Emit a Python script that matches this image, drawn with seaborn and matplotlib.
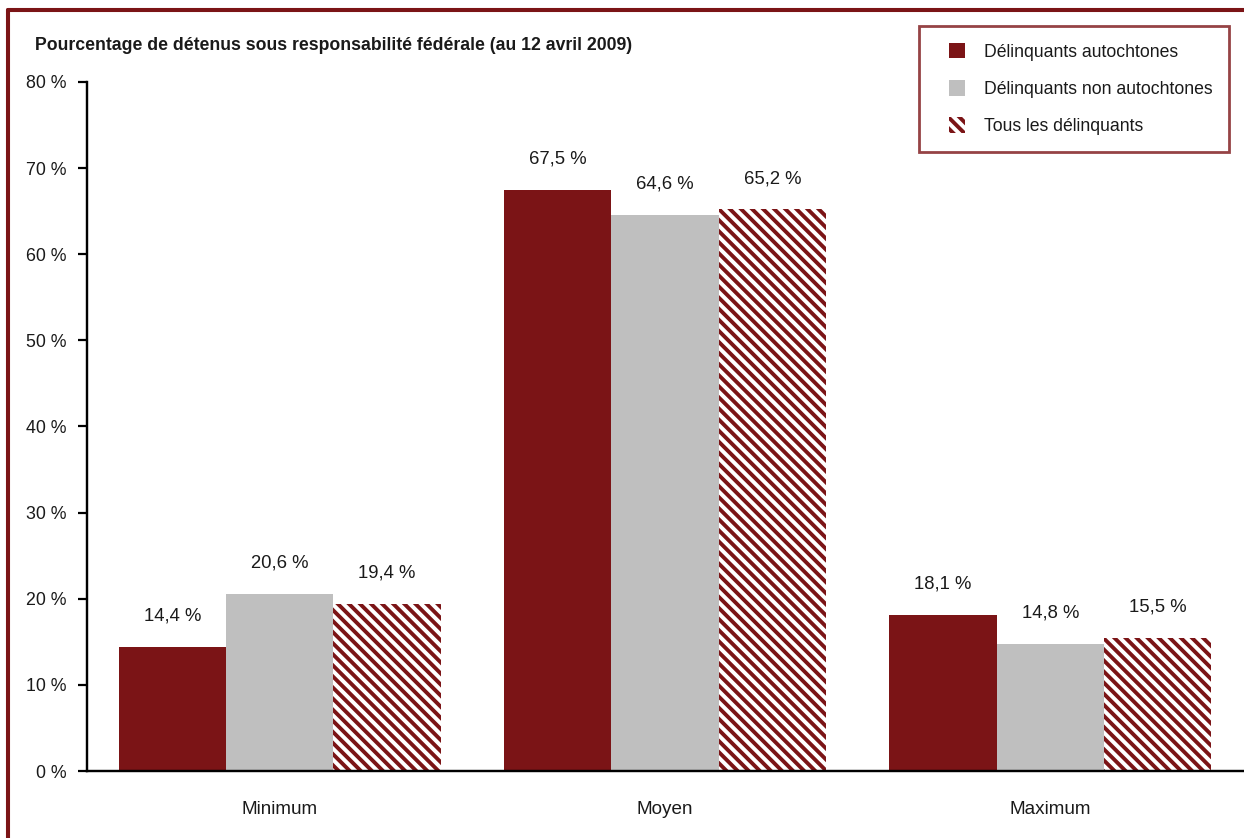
import matplotlib
matplotlib.use("Agg")
import matplotlib.pyplot as plt
from matplotlib.patches import Patch, Rectangle
from matplotlib.lines import Line2D
from matplotlib.legend_handler import HandlerPatch
import seaborn as sns
import pandas as pd

categories = ["Minimum", "Moyen", "Maximum"]
series = ["Délinquants autochtones", "Délinquants non autochtones", "Tous les délinquants"]
autochtones = [14.4, 67.5, 18.1]
non_autochtones = [20.6, 64.6, 14.8]
tous = [19.4, 65.2, 15.5]
yticks = [0, 10, 20, 30, 40, 50, 60, 70, 80]
title = "Pourcentage de détenus sous responsabilité fédérale (au 12 avril 2009)"

RED = "#7B1416"
GRAY = "#BFBFBF"
TXT = "#1a1a1a"
HATCH = chr(92) * 4

rows = []
for name, vals in zip(series, [autochtones, non_autochtones, tous]):
    for c, v in zip(categories, vals):
        rows.append({"cat": c, "serie": name, "val": v})
df = pd.DataFrame(rows)

sns.set_style("white")
plt.rcParams["font.family"] = ["Liberation Sans", "DejaVu Sans"]
plt.rcParams["hatch.linewidth"] = 2.1

DPI = 400 / 3
fig = plt.figure(figsize=(1244 / DPI, 838 / DPI), dpi=DPI)
ax = fig.add_axes([87 / 1244, 1 - 771 / 838, (1243 - 87) / 1244, (771 - 82) / 838])

sns.barplot(data=df, x="cat", y="val", hue="serie", order=categories, hue_order=series,
            palette=[RED, GRAY, "white"], width=0.836, saturation=1, ax=ax,
            legend=False, linewidth=0, errorbar=None)

n = len(categories)
for i, p in enumerate(ax.patches[:3 * n]):
    s = i // n
    if s == 2:
        p.set_facecolor("white")
        p.set_edgecolor(RED)
        p.set_hatch(HATCH)
        p.set_linewidth(0)
    v = p.get_height()
    ax.annotate(f"{v:.1f} %".replace(".", ","), (p.get_x() + p.get_width() / 2, v),
                xytext=(0, 12), textcoords="offset points", ha="center", va="bottom",
                fontsize=10, color=TXT)

ax.set_xlim(-0.5, 2.5)
ax.set_ylim(0, 80)
ax.set_yticks(yticks)
ax.set_yticklabels([f"{t} %" for t in yticks], fontsize=9.6, color=TXT)
ax.set_xticks(range(n))
ax.set_xticklabels(categories, fontsize=10.2, color=TXT)
ax.set_xticks([-0.5, 0.5, 1.5, 2.5], minor=True)
ax.tick_params(axis="x", which="major", length=0, pad=16)
ax.tick_params(axis="x", which="minor", length=5, width=1.2, direction="out", color="black")
ax.tick_params(axis="y", which="major", length=5, width=1.2, direction="out", color="black", pad=6, left=True)
ax.set_xlabel("")
ax.set_ylabel("")
sns.despine(ax=ax, top=True, right=True)
for sp in ["left", "bottom"]:
    ax.spines[sp].set_color("black")
    ax.spines[sp].set_linewidth(1.3)
    ax.spines[sp].set_zorder(5)

fig.text(35 / 1244, 1 - 46 / 838, title, fontsize=9.5, fontweight="bold", ha="left", va="center",
         color=TXT)


def square(legend, orig_handle, xdescent, ydescent, width, height, fontsize):
    size = height
    return Rectangle((width / 2 - size / 2 - xdescent, -ydescent), size, size)


handles = [Patch(facecolor=RED, edgecolor=RED, linewidth=0),
           Patch(facecolor=GRAY, edgecolor=GRAY, linewidth=0),
           Patch(facecolor="white", edgecolor=RED, hatch=HATCH, linewidth=0)]
leg = fig.legend(handles, series, loc="upper left",
                 bbox_to_anchor=(919 / 1244, 1 - 26 / 838), frameon=True, fancybox=False,
                 fontsize=9.5, handlelength=2.4, handleheight=1.0, handletextpad=0.35,
                 labelspacing=1.1, borderpad=0.95, borderaxespad=0,
                 handler_map={Patch: HandlerPatch(patch_func=square)})
leg.get_frame().set_edgecolor(RED)
leg.get_frame().set_linewidth(1.5)
for t in leg.get_texts():
    t.set_color(TXT)

# outer frame (top and left edges visible)
fig.add_artist(Line2D([8 / 1244, 8 / 1244], [0, 1 - 10 / 838], transform=fig.transFigure,
                      color=RED, linewidth=2.2))
fig.add_artist(Line2D([8 / 1244, 1], [1 - 10 / 838, 1 - 10 / 838], transform=fig.transFigure,
                      color=RED, linewidth=2.2))

fig.savefig("out.png", dpi=DPI)
